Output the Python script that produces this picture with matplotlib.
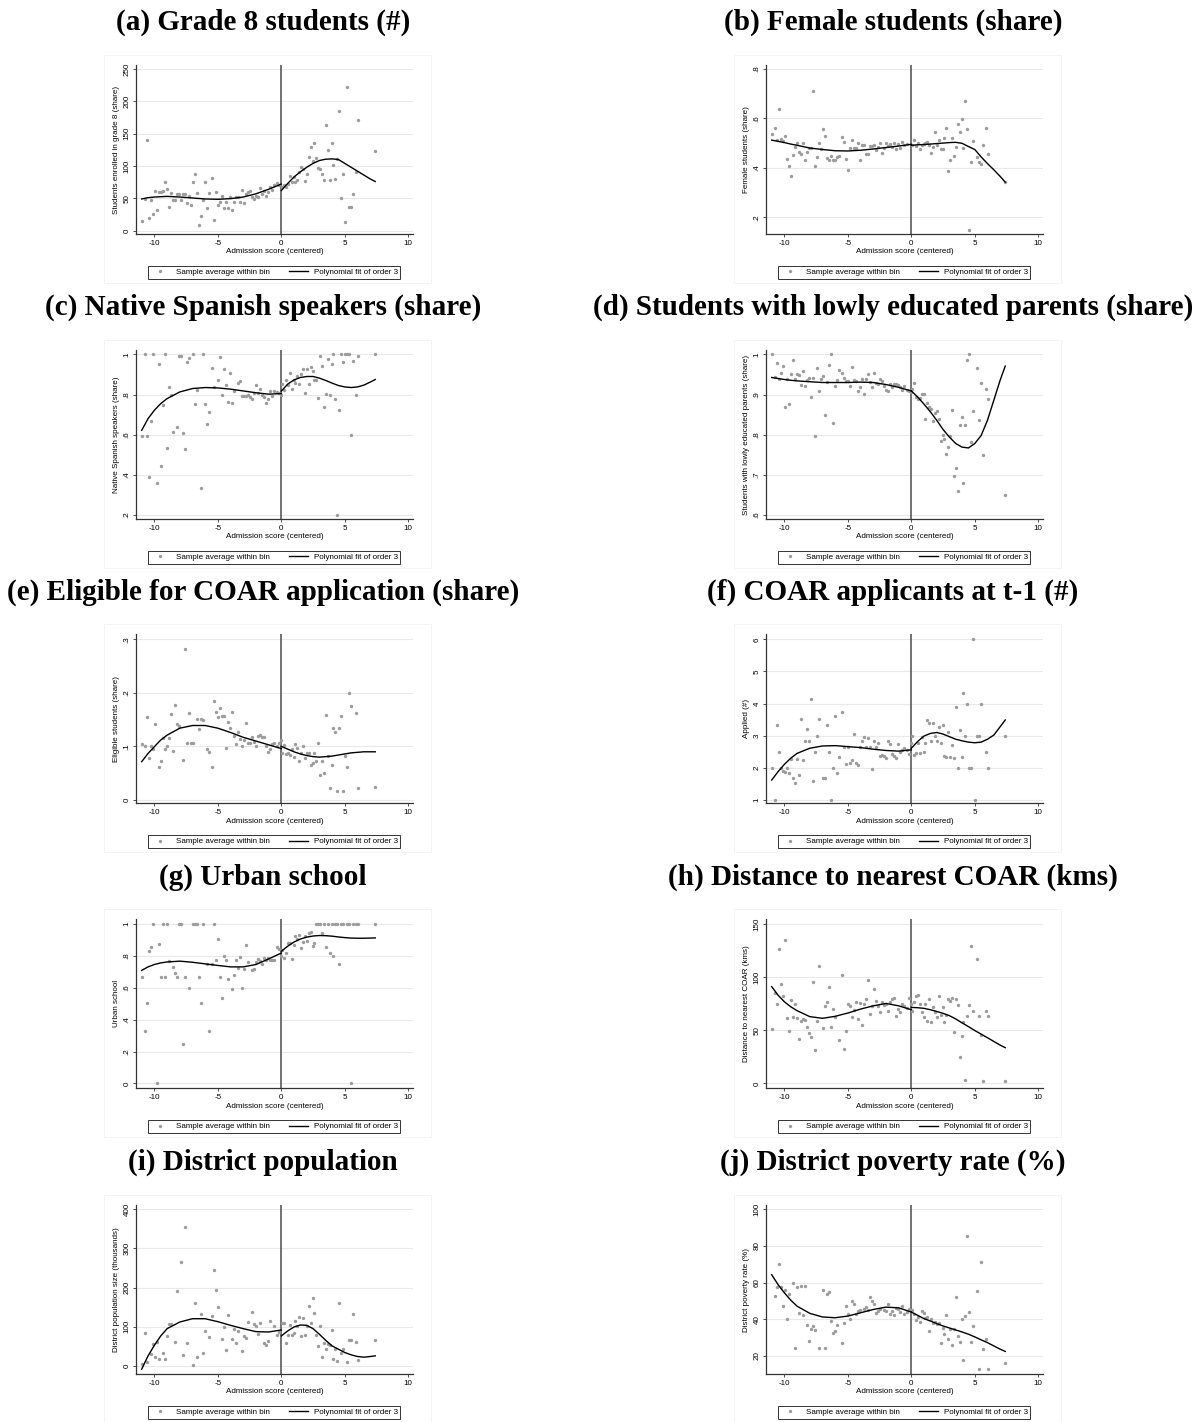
import numpy as np
import matplotlib.pyplot as plt
from matplotlib.lines import Line2D
from matplotlib.patches import Rectangle

plt.rcParams['font.family'] = ['Liberation Sans', 'DejaVu Sans']

nan = np.nan

# bin centres of the running variable (admission score, centered)
bins_left = [-10.94, -10.78, -10.62, -10.46, -10.30, -10.14, -9.98, -9.82, -9.66, -9.50,
             -9.34, -9.18, -9.02, -8.86, -8.70, -8.54, -8.38, -8.22, -8.06, -7.90,
             -7.74, -7.58, -7.42, -7.26, -7.10, -6.94, -6.78, -6.62, -6.46, -6.30,
             -6.14, -5.98, -5.82, -5.66, -5.50, -5.34, -5.18, -5.02, -4.86, -4.70,
             -4.54, -4.38, -4.22, -4.06, -3.90, -3.74, -3.58, -3.42, -3.26, -3.10,
             -2.94, -2.78, -2.62, -2.46, -2.30, -2.14, -1.98, -1.82, -1.66, -1.50,
             -1.34, -1.18, -1.02, -0.86, -0.70, -0.54, -0.38, -0.22, -0.06]
bins_right = [0.06, 0.21, 0.36, 0.51, 0.66, 0.81, 0.96, 1.11, 1.26, 1.41,
              1.56, 1.71, 1.86, 2.01, 2.16, 2.31, 2.46, 2.61, 2.76, 2.91,
              3.06, 3.21, 3.36, 3.51, 3.66, 3.81, 3.96, 4.11, 4.26, 4.41,
              4.56, 4.71, 4.86, 5.01, 5.16, 5.31, 5.46, 5.61, 5.76, 5.91,
              6.06, 7.40]

fit_left_x = [-11, -10.5, -10, -9.5, -9, -8, -7, -6, -5, -4, -3, -2, -1, 0]
fit_right_x = [0, 0.5, 1, 1.5, 2, 2.5, 3, 3.5, 4, 4.5, 5, 5.5, 6, 6.5, 7, 7.4]

# (a) Grade 8 students
a_left = [15, 49, 140, 19, 48, 25, 62, 32, 59, 59, 62, 76, 65, 36, 58, 48, 47, 57, 56, 48,
          57, 56, 43, 54, 39, 76, 87, 58, 8, 22, 48, 75, 35, 58, 81, 16, 59, 40, 44, 53,
          35, 44, 35, 52, 32, 44, 52, 52, 45, 63, 43, 57, 60, 61, 52, 49, 54, 52, 66, 57,
          62, 54, 60, 68, 63, 71, 73, 71]
a_right = [67, 70, 68, 72, 84, 76, 83, 75, 79, 91, 99, 96, 77, 88, 114, 129, 108, 135, 113, 97,
           96, 88, 78, 163, 124, 78, 135, 102, 80, 111, 185, 50, 88, 14, 222, 37, 37, 57, nan, 91,
           171, 123]
a_fit_left = [49, 51, 52, 52.5, 53, 52, 50.5, 49, 48.5, 49.5, 52, 57, 64, 72]
a_fit_right = [62, 73, 83, 91, 98, 104, 108.5, 110.5, 111, 110, 104, 98, 92, 86, 80, 76]

# (b) Female students
b_left = [.535, .559, .512, .638, .518, .509, .528, .434, .406, .365, .453, .485, .501, .464, .457,
          .501, .430, .464, .48, .48, .711, .406, .444, .501, .478, .556, .529, .441, .433, .447,
          .430, .430, .444, .447, .525, .505, .434, .392, .48, .514, .48, .48, .502, .433, .494,
          .494, .455, .455, .487, .487, .491, .471, .485, .501, .46, .48, .501, .487, .495, .485,
          .501, .478, .495, .482, .505, .491, .498]
b_right = [.494, .512, .487, .501, .474, .494, .498, .501, .505, .491, .46, .485, .546, .491, .512,
           .475, .475, .522, .559, .386, .430, .522, .447, .485, .579, .546, .596, .48, .672, .556,
           .148, .424, .509, nan, .444, .424, .417, .491, nan, .562, .457, .342]
b_fit_left = [.512, .507, .502, .496, .491, .48, .474, .469, .468, .471, .476, .482, .488, .495]
b_fit_right = [.491, .493, .494, .496, .498, .5, .502, .503, .499, .486, .474, .444, .417, .392, .365, .342]

# (c) Native Spanish speakers
c_left = [.592, 1.0, .592, .388, .668, 1.0, nan, .36, .95, .442, .747, 1.0, .532, .838, .80,
          .613, nan, .638, .993, .992, .61, .527, .963, .983, nan, 1.0, .752, .822, nan, .333,
          1.0, .752, .652, .713, .93, .838, nan, .875, .985, .80, .927, .847, .763, .905, .758,
          .817, nan, .858, .868, .793, .793, .793, .80, .788, .78, .81, .847, .808, .83, .80,
          .788, .758, .78, .818, .792, .818, .813, .81, .80]
c_right = [.855, .825, .875, .85, .905, .83, .875, .858, .892, .855, .90, .925, .808, .925, .852,
           .938, .917, .872, .875, .785, .993, .942, .738, .805, .975, .80, .95, 1.0, .78, .2,
           .725, 1.0, .96, 1.0, 1.0, 1.0, .60, .967, nan, .797, .993, 1.0]
c_fit_left = [.622, .68, .722, .755, .78, .813, .83, .835, .833, .827, .818, .809, .802, .805]
c_fit_right = [.817, .852, .873, .885, .89, .89, .882, .87, .857, .845, .838, .835, .838, .847, .862, .875]

# (d) Students with lowly educated parents
d_left = [1.0, .944, .978, .938, .954, .972, .869, .94, .876, .95, .986, .938, .952, .948, .923,
          .959, .921, .936, .942, .894, .942, .796, .967, .908, .938, .946, .848, .932, .973, 1.0,
          .829, .921, .936, .961, .954, .942, .934, .933, .921, .969, .936, .933, .909, .918, .94,
          .902, .94, .95, .932, .918, .954, .929, .926, .938, .933, .921, .911, .908, .927, .919,
          .926, .926, .923, .919, .911, .922, .911, .909, .907]
d_right = [.915, .929, .894, .888, .891, .902, .902, .838, .879, .868, .865, .834, .854, .858, .84,
           .784, .80, .79, .753, .769, .796, .861, .697, .717, .659, .823, .843, .679, .823, .986,
           1.0, .782, .858, nan, .967, .836, .929, .75, nan, .915, .888, .651]
d_fit_left = [.9425, .94, .9375, .9355, .934, .932, .93, .93, .93, .931, .93, .925, .918, .909]
d_fit_right = [.909, .894, .876, .857, .836, .813, .794, .778, .769, .767, .778, .798, .836, .886, .936, .971]

# (e) Eligible for COAR application
e_left = [.104, .101, .154, .078, .101, .095, .141, nan, .062, .072, .115, .095, .10, .116, .16,
          .091, .177, .141, .138, nan, .075, .282, .106, .163, .106, .106, nan, .152, .132, .151,
          .15, nan, .096, .089, .061, .184, .165, .155, .172, .156, .156, .098, .146, .134, .165,
          .119, .105, .126, .113, .101, .112, .143, .107, .106, .118, .109, .101, .12, .121, .117,
          .118, .101, .09, .096, .104, .107, .1, .107, .112]
e_right = [.088, .103, .086, .088, .084, .095, .081, .104, .098, .073, .087, .101, .078, .088, .087,
           .065, .07, .088, .072, .107, .047, .072, .051, .159, .083, .022, .065, .134, .126, .017,
           .135, .156, .016, .083, .062, .20, .175, nan, nan, .163, .023, .025]
e_fit_left = [.0716, .087, .0996, .112, .121, .134, .139, .139, .134, .126, .117, .11, .103, .096]
e_fit_right = [.1, .095, .09, .086, .083, .081, .08, .081, .082, .084, .086, .088, .089, .09, .09, .09]

# (f) COAR applicants at t-1
f_left = [2.0, 1.0, 3.33, 2.5, 2.0, 1.9, 1.88, 2.0, 1.85, 2.27, 1.67, 1.52, 2.27, 1.78, 3.51,
          2.24, 2.85, 3.21, 2.84, 4.13, 1.6, 2.5, 3.0, 3.51, nan, 1.67, 1.67, 3.33, 2.5, 1.0,
          2.0, 3.62, 1.85, 2.35, 3.75, 2.66, 2.12, 2.66, 2.14, 2.24, 3.05, 2.14, 2.09, 2.66, 2.85,
          2.97, 2.64, 2.92, 2.64, 1.96, 2.84, 2.66, 2.76, 2.37, 2.4, 2.37, 2.3, 2.82, 2.74, 2.43,
          2.37, 2.3, 2.73, 2.5, 2.56, 2.61, 2.56, 2.43, 2.76]
f_right = [2.99, 2.4, 2.47, 2.78, 2.45, 2.97, 2.5, 2.78, 3.49, 3.41, 2.84, 3.41, 2.99, 2.84, 3.26,
           2.76, 3.33, 2.37, 2.35, 3.13, 2.35, 2.71, 2.32, 3.9, 2.0, 3.18, 2.35, 4.34, 3.0, 4.0,
           2.0, 2.0, 6.0, 1.0, 3.0, 3.0, 4.0, nan, nan, 2.5, 2.0, 3.0]
f_fit_left = [1.62, 1.88, 2.11, 2.30, 2.45, 2.61, 2.68, 2.69, 2.66, 2.63, 2.58, 2.54, 2.52, 2.56]
f_fit_right = [2.61, 2.82, 2.99, 3.07, 3.10, 3.05, 2.97, 2.89, 2.84, 2.80, 2.78, 2.80, 2.89, 3.02, 3.28, 3.49]

# (g) Urban school
g_left = [.668, .332, .502, .834, .857, 1.0, nan, 0.0, .876, .668, 1.0, .668, 1.0, .768, nan,
          .732, .695, .668, 1.0, 1.0, .249, .668, nan, .602, nan, 1.0, 1.0, 1.0, .668, .502,
          1.0, nan, .751, .332, .753, 1.0, .778, .909, .668, .539, .803, .778, .658, nan, .595,
          .678, .774, .722, .793, .602, .72, .867, .761, nan, .71, .72, .761, .782, .768, .747,
          .788, .778, .788, .774, .778, .774, .855, .844, .80]
g_right = [.84, .788, .819, .882, .882, .782, .871, .923, .907, .934, .851, .886, .927, .892, .944,
           .954, .861, .882, 1.0, 1.0, 1.0, .948, 1.0, .857, 1.0, .819, 1.0, .799, 1.0, 1.0,
           .747, 1.0, 1.0, nan, 1.0, 1.0, 0.0, 1.0, nan, 1.0, 1.0, 1.0]
g_fit_left = [.71, .732, .747, .757, .763, .768, .761, .751, .741, .732, .732, .747, .782, .819]
g_fit_right = [.83, .862, .888, .907, .919, .926, .929, .928, .925, .92, .916, .913, .912, .912, .913, .914]

# (h) Distance to nearest COAR
h_left = [51.4, 85, 74.7, 126.7, 94, 82.5, 135.4, 61.3, 48.9, 78.4, 62.9, 74.7, 61.3, 42, 58.5,
          60.7, 59.8, 53.5, 47.6, 43.6, 95.5, 31.7, 59.1, 110.5, nan, 52, 72.5, 76.3, 91.2, 52.9,
          70, 62.2, nan, 40.5, 102, 32.7, 49.2, 74.7, 73.1, 62.2, 69.1, 76.3, 60.7, 75.3, 55.1,
          74.7, 79.4, 97.1, 65.4, 73.1, 89.3, 77.8, 73.1, 66.9, 76.9, 73.8, 74.7, 68.5, 76.3, 79.4,
          80, 63.8, 70, 67.5, 74.7, 73.1, 70.7, 80, 74.7]
h_right = [68.5, 76.3, 81.9, 83.1, 74.7, 66.9, 62.2, 74.7, 59.1, 79.4, 57.6, 71.6, 66.9, 62.2, 82.5,
           64.4, 72.2, 57.6, 64.4, 79.4, 77.8, 80.9, 48.2, 79.4, 73.8, 24.9, 45.1, 57.6, 3.1, 63.2,
           73.8, 129.8, 68.5, nan, 117.3, 63.8, 45.8, 2.2, nan, 68.5, 63.8, 2.2]
h_fit_left = [91.2, 83.1, 76.9, 72.2, 68.5, 62.9, 61.3, 63.2, 66.3, 70, 73.1, 75.3, 73.1, 69.4]
h_fit_right = [71.6, 71.3, 70.7, 69.4, 67.8, 66, 63.8, 60.7, 57, 53.5, 49.8, 46.4, 43, 39.5, 36, 33.6]

# (i) District population
i_left = [4.2, 84.7, 10.2, nan, 29.7, 55.1, 23.7, 61, 18.6, nan, 33.9, 18.6, 76.3, 106, 106,
          nan, 61, 192.4, nan, 264.4, 27.1, 354.2, 59.3, nan, nan, 2.5, 161, 21.2, nan, 131.4,
          33.9, 89, nan, 74.6, 127.1, 245.8, 194.9, 150, nan, 69.5, 100, 40.7, 128.8, nan, 69.5,
          93.2, 59.3, 89, nan, 38.1, 76.3, 72, 111.9, nan, 137.3, 105.9, 101.7, 82.2, 110.2, nan,
          59.3, 52.5, 63.6, 114.4, nan, 101.7, 78.8, 87.3, nan]
i_right = [108.5, 108.5, 59.3, 78.8, 104.2, 78.8, 84.7, 114.4, 101.7, 125.4, 76.3, 122.9, 78.8, 101.7, 152.5,
           110.2, 173.7, 135.6, 78.8, 50.8, 101.7, 21.2, 59.3, 44.1, 55.1, 52.5, 90.7, 16.9, 42.4, 12.7,
           161, 33.9, 42.4, nan, 8.5, 66.1, 66.1, 131.4, nan, 61, 15.3, 66.1]
i_fit_left = [-8.5, 25.4, 52.5, 76.3, 94.9, 111.9, 120.3, 120.3, 112.7, 103.4, 94.9, 87.3, 86.4, 91.5]
i_fit_right = [76.3, 89, 99.2, 104.2, 103.4, 94.9, 80.5, 65, 50.8, 42.4, 33.9, 28, 23.7, 22, 23.7, 25.4]

# (j) District poverty rate
j_left = [nan, 52.6, 57.6, 70.1, 57.6, 47.1, 55.8, 39.9, 53.8, nan, 59.8, 24.2, 57.5, 43.2, 58,
          42.3, 58, 36.7, 28.1, 34.5, 36.3, 33.9, nan, 24.2, nan, 56.2, 24.2, 53.5, 54.8, 39,
          32.3, 33.6, 36.7, nan, 27.2, 38.1, 47.1, 42.6, 39.9, 50.2, 48.4, 42.6, 44.4, 44.8, nan,
          45.7, 46.8, 44.8, 52, 49.9, 48.1, 43.5, 44.4, 45.3, nan, 44.8, 44.4, 48.1, 42.6, 44.4,
          42.1, 46.2, 45.7, 43.9, 47.1, 42.6, 43.9, 45.3, nan]
j_right = [45, 42.6, 39.4, 41.2, 38.5, 44.4, 43.2, 40.8, 41.4, 33.6, 40.3, 38.1, 38.5, 37.2, 38.1,
           26.9, 35.4, 31.8, 42.1, 29.4, 34.8, 25.8, 34.8, 52, 30.9, 27.6, 40.3, 17.8, 41.7, 85.2,
           43.9, 27.6, 36.3, nan, 55.3, 12.8, 71, 23.6, nan, 29.4, 12.8, 15.8]
j_fit_left = [64.3, 58.9, 54.4, 50.4, 47.1, 43.2, 41.2, 40.8, 41.7, 43.5, 45.3, 46.6, 46.2, 43.9]
j_fit_right = [43.9, 42.1, 40.3, 39, 37.6, 36.3, 35.2, 34.1, 33, 31.8, 30.3, 28.7, 27.2, 25.4, 23.6, 22.4]

panels = [
    ('(a) Grade 8 students (#)', 'Students enrolled in grade 8 (share)',
     a_left, a_right, a_fit_left, a_fit_right,
     [0, 50, 100, 150, 200, 250], ['0', '50', '100', '150', '200', '250'], (-5.2, 256.2)),
    ('(b) Female students (share)', 'Female students (share)',
     b_left, b_right, b_fit_left, b_fit_right,
     [.2, .4, .6, .8], ['.2', '.4', '.6', '.8'], (0.132, 0.816)),
    ('(c) Native Spanish speakers (share)', 'Native Spanish speakers (share)',
     c_left, c_right, c_fit_left, c_fit_right,
     [.2, .4, .6, .8, 1], ['.2', '.4', '.6', '.8', '1'], (0.18, 1.022)),
    ('(d) Students with lowly educated parents (share)', 'Students with lowly educated parents (share)',
     d_left, d_right, d_fit_left, d_fit_right,
     [.6, .7, .8, .9, 1], ['.6', '.7', '.8', '.9', '1'], (0.59, 1.011)),
    ('(e) Eligible for COAR application (share)', 'Eligible students (share)',
     e_left, e_right, e_fit_left, e_fit_right,
     [0, .1, .2, .3], ['0', '.1', '.2', '.3'], (-0.006, 0.309)),
    ('(f) COAR applicants at t-1 (#)', 'Applied (#)',
     f_left, f_right, f_fit_left, f_fit_right,
     [1, 2, 3, 4, 5, 6], ['1', '2', '3', '4', '5', '6'], (0.896, 6.156)),
    ('(g) Urban school', 'Urban school',
     g_left, g_right, g_fit_left, g_fit_right,
     [0, .2, .4, .6, .8, 1], ['0', '.2', '.4', '.6', '.8', '1'], (-0.031, 1.031)),
    ('(h) Distance to nearest COAR (kms)', 'Distance to nearest COAR (kms)',
     h_left, h_right, h_fit_left, h_fit_right,
     [0, 50, 100, 150], ['0', '50', '100', '150'], (-4.7, 154.7)),
    ('(i) District population', 'District population size (thousands)',
     i_left, i_right, i_fit_left, i_fit_right,
     [0, 100, 200, 300, 400], ['0', '100', '200', '300', '400'], (-21, 411)),
    ('(j) District poverty rate (%)', 'District poverty rate (%)',
     j_left, j_right, j_fit_left, j_fit_right,
     [20, 40, 60, 80, 100], ['20', '40', '60', '80', '100'], (10.05, 102.4)),
]

x_ticks = [-10, -5, 0, 5, 10]
x_ticklabels = ['-10', '-5', '0', '5', '10']


def fill(vals, n):
    vals = list(vals)[:n]
    return vals + [nan] * (n - len(vals))


W, H = 1202, 1422
fig = plt.figure(figsize=(W / 100, H / 100), dpi=100)

row_top = [65, 350, 634.3, 919.3, 1205]
row_h = 169
col_left = [136, 766]
ax_w = 276.7
title_cx = [263, 893]
GRAY = '#9c9c9c'
SMALL = 5.8

for i, (title, ylab, yl, yr, fl, fr, ticks, tlabels, ylim) in enumerate(panels):
    r, c = divmod(i, 2)
    top = row_top[r]
    left = col_left[c]

    # faint frame around each graph
    fig.add_artist(Rectangle(((left - 32) / W, 1 - (top + row_h + 49) / H),
                             (ax_w + 50) / W, (row_h + 59) / H,
                             transform=fig.transFigure, fill=False,
                             edgecolor='#f2f2f2', lw=0.6))

    ax = fig.add_axes([left / W, 1 - (top + row_h) / H, ax_w / W, row_h / H])

    y_left = fill(yl, len(bins_left))
    y_right = fill(yr[:-1], len(bins_right) - 1) + [yr[-1]]

    ax.scatter(bins_left, y_left, s=6, color=GRAY, lw=0, zorder=3)
    ax.scatter(bins_right, y_right, s=6, color=GRAY, lw=0, zorder=3)
    ax.plot(fit_left_x, fl, color='black', lw=1.0, zorder=4)
    ax.plot(fit_right_x, fr, color='black', lw=1.0, zorder=4)
    ax.axvline(0, color='#5a5a5a', lw=1.2, zorder=2)

    ax.set_xlim(-11.45, 10.35)
    ax.set_ylim(ylim)
    ax.set_xticks(x_ticks)
    ax.set_xticklabels(x_ticklabels)
    ax.set_yticks(ticks)
    ax.set_yticklabels(tlabels, rotation=90, va='center')
    ax.grid(axis='y', color='#e9e9e9', lw=0.8)
    ax.set_axisbelow(True)
    for s in ['top', 'right']:
        ax.spines[s].set_visible(False)
    for s in ['left', 'bottom']:
        ax.spines[s].set_color('#333333')
        ax.spines[s].set_linewidth(0.9)
    ax.tick_params(labelsize=SMALL, length=2.5, width=0.6, pad=1.5, color='#333333')

    ax.set_xlabel('Admission score (centered)', fontsize=SMALL)
    ax.xaxis.set_label_coords(0.5, -0.085)
    ax.set_ylabel(ylab, fontsize=SMALL)
    ax.yaxis.set_label_coords(-0.057, 0.5)

    h_dot = Line2D([], [], ls='none', marker='o', markersize=2.4,
                   markerfacecolor=GRAY, markeredgewidth=0)
    h_fit = Line2D([], [], color='black', lw=1.0)
    leg = ax.legend([h_dot, h_fit],
                    ['Sample average within bin', 'Polynomial fit of order 3'],
                    ncol=2, loc='upper center', bbox_to_anchor=(0.5, -0.19),
                    fontsize=SMALL, frameon=True, fancybox=False,
                    edgecolor='black', borderpad=0.3, handlelength=2.4,
                    handletextpad=0.7, columnspacing=2.4, borderaxespad=0)
    leg.get_frame().set_linewidth(0.7)

    fig.text(title_cx[c] / W, 1 - (top - 35) / H, title, ha='center', va='baseline',
             fontsize=21, fontweight='bold', family=['Liberation Serif', 'DejaVu Serif'])

fig.savefig('out.png', dpi=100)
